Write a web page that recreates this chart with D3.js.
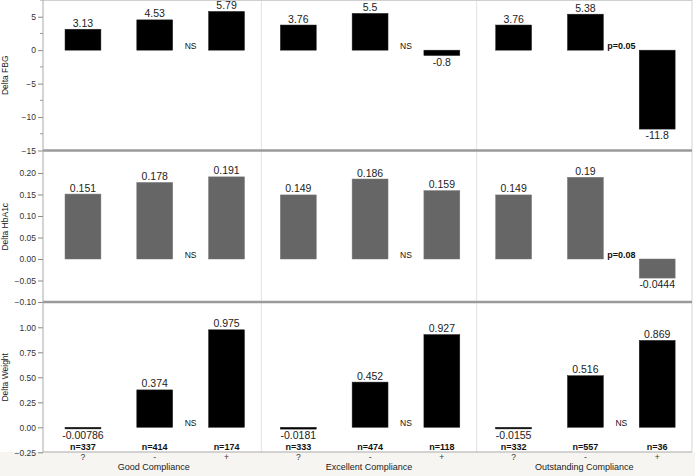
<!DOCTYPE html>
<html><head><meta charset="utf-8">
<script src="https://cdn.jsdelivr.net/npm/d3@7"></script>
<style>
html,body{margin:0;padding:0;background:#fff;}
svg{display:block;font-family:"Liberation Sans",Arial,Helvetica,sans-serif;}
</style></head>
<body><svg id="chart" width="695" height="476"></svg>
<script>
const groups = ["Good Compliance", "Excellent Compliance", "Outstanding Compliance"];
const categories = ["?", "-", "+"];
const deltaFBG   = [[3.13, 4.53, 5.79], [3.76, 5.5, -0.8], [3.76, 5.38, -11.8]];
const deltaHbA1c = [[0.151, 0.178, 0.191], [0.149, 0.186, 0.159], [0.149, 0.19, -0.0444]];
const deltaWeight= [[-0.00786, 0.374, 0.975], [-0.0181, 0.452, 0.927], [-0.0155, 0.516, 0.869]];
const valueLabelsFBG = [["3.13","4.53","5.79"],["3.76","5.5","-0.8"],["3.76","5.38","-11.8"]];
const valueLabelsHbA1c = [["0.151","0.178","0.191"],["0.149","0.186","0.159"],["0.149","0.19","-0.0444"]];
const valueLabelsWeight = [["-0.00786","0.374","0.975"],["-0.0181","0.452","0.927"],["-0.0155","0.516","0.869"]];
const counts = [[337, 414, 174], [333, 474, 118], [332, 557, 36]];
const notesFBG = ["NS", "NS", "p=0.05"];
const notesHbA1c = ["NS", "NS", "p=0.08"];
const notesWeight = ["NS", "NS", "NS"];
const ticksFBG = [5, 0, -5, -10, -15];
const ticksHbA1c = [0.20, 0.15, 0.10, 0.05, 0.00, -0.05, -0.10];
const ticksWeight = [1.00, 0.75, 0.50, 0.25, 0.00, -0.25];

const svg = d3.select("#chart");
const L = 43, R = 692, B = 452, XL = 46;

const panels = [
  {title:"Delta FBG", vals:deltaFBG, labels:valueLabelsFBG, notes:notesFBG, ticks:ticksFBG, fmt:d3.format("d"),
   domain:[-15, 7.5], range:[150.5, 0], color:"#000", minor:[7.5,2.5,-2.5,-7.5,-12.5]},
  {title:"Delta HbA1c", vals:deltaHbA1c, labels:valueLabelsHbA1c, notes:notesHbA1c, ticks:ticksHbA1c, fmt:d3.format(".2f"),
   domain:[-0.10, 0.25], range:[302, 151.5], color:"#666", minor:[]},
  {title:"Delta Weight", vals:deltaWeight, labels:valueLabelsWeight, notes:notesWeight, ticks:ticksWeight, fmt:d3.format(".2f"),
   domain:[-0.25, 1.25], range:[452.3, 302.3], color:"#000", minor:[]}
];

svg.append("rect").attr("x",0).attr("y",B).attr("width",695).attr("height",476-B).attr("fill","#f6f5f1");
svg.append("rect").attr("x",L).attr("y",0.5).attr("width",R-L).attr("height",B-0.5).attr("fill","#fff");

const xg = d3.scaleBand().domain(groups).range([XL, R]);
const xc = d3.scaleBand().domain(categories).range([0, xg.bandwidth()]).paddingInner(0.5).paddingOuter(0.25).align(0.53);

svg.selectAll("line.div").data(groups.slice(1)).join("line")
  .attr("x1", d=>xg(d)).attr("x2", d=>xg(d)).attr("y1",0).attr("y2",B)
  .attr("stroke","#e2e2e2").attr("stroke-width",1);

svg.append("line").attr("x1",L).attr("x2",R).attr("y1",0.5).attr("y2",0.5).attr("stroke","#cfcfcf");
svg.append("line").attr("x1",R).attr("x2",R).attr("y1",0).attr("y2",B).attr("stroke","#d5d5d5");

panels.forEach((p, pi) => {
  const y = d3.scaleLinear().domain(p.domain).range(p.range);
  const ax = svg.append("g").attr("transform",`translate(${L},0)`)
    .call(d3.axisLeft(y).tickValues(p.ticks).tickFormat(p.fmt).tickSize(5).tickPadding(2));
  ax.select(".domain").remove();
  ax.selectAll(".tick line").attr("stroke","#888");
  ax.selectAll(".tick text").attr("fill","#333").style("font-size","8.5px");
  if (p.minor.length) {
    svg.selectAll(null).data(p.minor).join("line")
      .attr("x1",L-3).attr("x2",L).attr("y1",d=>y(d)).attr("y2",d=>y(d)).attr("stroke","#999");
  }
  const ym = (p.range[0]+p.range[1])/2;
  svg.append("text").attr("transform",`translate(8,${ym}) rotate(-90)`).attr("text-anchor","middle")
    .style("font-size","8.5px").attr("fill","#222").text(p.title);

  groups.forEach((g, gi) => {
    const gx = xg(g);
    categories.forEach((c, ci) => {
      const v = p.vals[gi][ci];
      const x0 = gx + xc(c), w = xc.bandwidth();
      const y0 = y(0), yv = y(v);
      let top = Math.min(y0, yv), h = Math.abs(yv - y0);
      if (h < 1.6) { h = 1.6; top = v < 0 ? y0 : y0 - h; }
      svg.append("rect").attr("x",x0).attr("y",top).attr("width",w).attr("height",h)
        .attr("fill",p.color).attr("stroke", p.color==="#000" ? "#222" : "#777").attr("stroke-width",0.5);
      svg.append("text").attr("x",x0+w/2)
        .attr("y", v >= 0 ? top - 2.5 : top + h + 10)
        .attr("text-anchor","middle").style("font-size","10.5px").attr("fill","#222")
        .text(p.labels[gi][ci]);
    });
    const note = p.notes[gi];
    const nx = gx + xc("+") - (xc.step()-xc.bandwidth())/2;
    svg.append("text").attr("x",nx).attr("y",y(0)-1.5).attr("text-anchor","middle")
      .style("font-size", note==="NS" ? "8.5px" : "9px")
      .style("font-weight", note==="NS" ? "normal" : "bold").attr("fill","#111").text(note);
  });
});

[150.5, 302].forEach(sy => {
  svg.append("line").attr("x1",L).attr("x2",R).attr("y1",sy).attr("y2",sy).attr("stroke","#9a9a9a").attr("stroke-width",2.5);
});
svg.append("line").attr("x1",L).attr("x2",L).attr("y1",0).attr("y2",B).attr("stroke","#aaa");
svg.append("line").attr("x1",L).attr("x2",R).attr("y1",B).attr("y2",B).attr("stroke","#aaa");

groups.forEach((g, gi) => {
  const gx = xg(g);
  categories.forEach((c, ci) => {
    const cx = gx + xc(c) + xc.bandwidth()/2;
    svg.append("text").attr("x",cx).attr("y",450).attr("text-anchor","middle")
      .style("font-size","9px").style("font-weight","bold").attr("fill","#111").text("n=" + counts[gi][ci]);
    svg.append("text").attr("x",cx).attr("y",459.5).attr("text-anchor","middle")
      .style("font-size","8.5px").attr("fill","#333").text(c);
  });
  svg.append("text").attr("x", gx + xg.bandwidth()/2).attr("y",469.5).attr("text-anchor","middle")
    .style("font-size","9px").attr("fill","#222").text(g);
});
</script></body></html>
